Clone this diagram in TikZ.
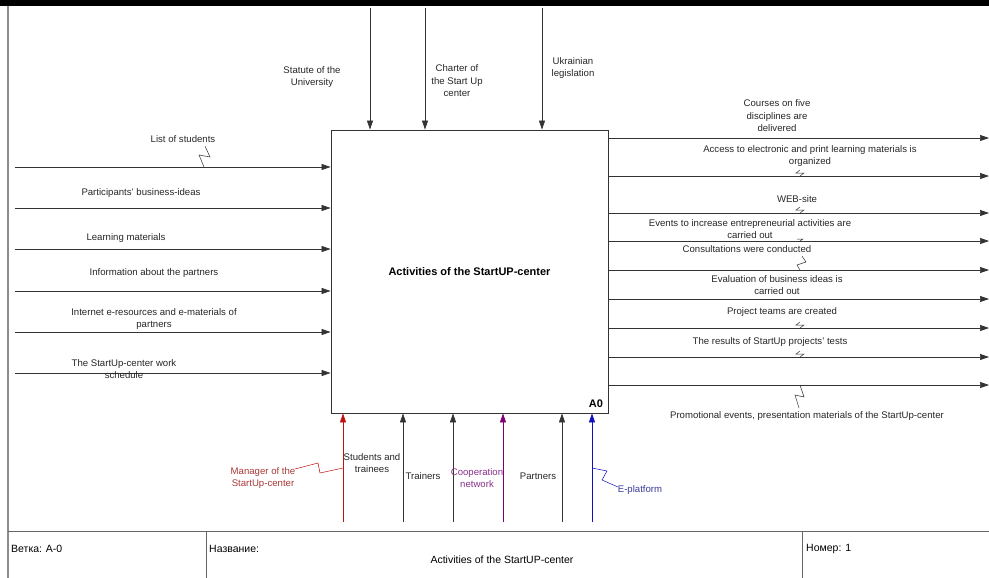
\documentclass[tikz,border=0pt]{standalone}
\usepackage{fontspec}
\setmainfont{Liberation Sans}
\usetikzlibrary{arrows.meta}
\definecolor{mred}{HTML}{C01010}
\definecolor{mredtxt}{HTML}{A83838}
\definecolor{mpurple}{HTML}{800070}
\definecolor{mpurpletxt}{HTML}{883088}
\definecolor{mblue}{HTML}{1010C0}
\definecolor{mbluetxt}{HTML}{3A3A9A}
\begin{document}
\begin{tikzpicture}[x=1pt,y=-1pt,
  arr/.style={draw=black!80, line width=0.7pt, -{Triangle[length=9pt,width=6pt]}},
  lbl/.style={font=\fontsize{9.6}{12.5}\selectfont, align=center, text=black!85, inner sep=0pt},
  sq/.style={draw=black!80, line width=0.5pt},
  foot/.style={font=\fontsize{10.5}{12}\selectfont, inner sep=0pt}]
\useasboundingbox (0,0) rectangle (989,578);
\fill[black] (0,0) rectangle (989,6);
\draw[black!45, line width=1.3pt] (8,6) -- (8,578);

% main box
\node[draw=black!80, line width=0.8pt, minimum width=277pt, minimum height=283pt, inner sep=0pt,
      font=\bfseries\fontsize{11}{13}\selectfont] (box) at (469.5,271.5) {Activities of the StartUP-center};
\node[font=\bfseries\fontsize{11}{13}\selectfont, inner sep=0pt] (a0) at (596,404) {A0};

% controls
\coordinate (c1) at (370,8);
\coordinate (c2) at (425,8);
\coordinate (c3) at (542,8);
\foreach \c in {c1,c2,c3} \draw[arr] (\c) -- (\c |- box.north);
\node[lbl] (lc1) at (312,77) {Statute of the\\University};
\node[lbl] (lc2) at (457,81) {Charter of\\the Start Up\\center};
\node[lbl] (lc3) at (573,68) {Ukrainian\\legislation};

% inputs
\coordinate (i1) at (15,167);
\coordinate (i2) at (15,208);
\coordinate (i3) at (15,249);
\coordinate (i4) at (15,291);
\coordinate (i5) at (15,332);
\coordinate (i6) at (15,373);
\foreach \c in {i1,i2,i3,i4,i5,i6} \draw[arr] (\c) -- (\c -| box.west);
\node[lbl] (li1) at (183,139) {List of students};
\node[lbl] (li2) at (141,193) {Participants' business-ideas};
\node[lbl] (li3) at (126,238) {Learning materials};
\node[lbl] (li4) at (154,273) {Information about the partners};
\node[lbl] (li5) at (154,319) {Internet e-resources and e-materials of\\partners};
\node[lbl] (li6) at (124,369) {The StartUp-center work\\schedule};
\coordinate (s1) at (204,167);
\draw[sq] (s1) -- (199,155) -- (210,157) -- (205,146);

% outputs
\coordinate (o1) at (989,138);
\coordinate (o2) at (989,176);
\coordinate (o3) at (989,213);
\coordinate (o4) at (989,241);
\coordinate (o5) at (989,270);
\coordinate (o6) at (989,299);
\coordinate (o7) at (989,328);
\coordinate (o8) at (989,357);
\coordinate (o9) at (989,385);
\foreach \c in {o1,o2,o3,o4,o5,o6,o7,o8,o9} \draw[arr] (\c -| box.east) -- (\c);
\node[lbl] (lo1) at (777,116) {Courses on five\\disciplines are\\delivered};
\node[lbl] (lo2) at (810,156) {Access to electronic and print learning materials is\\organized};
\node[lbl] (lo3) at (797,199) {WEB-site};
\node[lbl] (lo4) at (750,229) {Events to increase entrepreneurial activities are\\carried out};
\node[lbl] (lo5) at (747,249) {Consultations were conducted};
\node[lbl] (lo6) at (777,285) {Evaluation of business ideas is\\carried out};
\node[lbl] (lo7) at (782,312) {Project teams are created};
\node[lbl] (lo8) at (770,342) {The results of StartUp projects' tests};
\node[lbl] (lo9) at (807,416) {Promotional events, presentation materials of the StartUp-center};
\coordinate (so2) at (800,176);
\coordinate (so3) at (800,213);
\coordinate (so4) at (800,241);
\coordinate (so5) at (800,270);
\coordinate (so7) at (800,328);
\coordinate (so8) at (800,357);
\coordinate (so9) at (800,385);
\foreach \c in {so2,so3,so7,so8} \draw[sq] (\c) -- ++(4,-3) -- ++(-8,0) -- ++(4,-3);
\draw[sq] (so4) -- ++(3,-2) -- ++(-6,0);
\draw[sq] (so5) -- (797,265) -- (806,262) -- (802,256);
\draw[sq] (so9) -- (804,397) -- (795,395) -- (799,408);

% mechanisms
\coordinate (m1) at (343,522);
\coordinate (m2) at (403,522);
\coordinate (m3) at (453,522);
\coordinate (m4) at (503,522);
\coordinate (m5) at (562,522);
\coordinate (m6) at (592,522);
\draw[arr, draw=mred] (m1) -- (m1 |- box.south);
\foreach \c in {m2,m3,m5} \draw[arr] (\c) -- (\c |- box.south);
\draw[arr, draw=mpurple] (m4) -- (m4 |- box.south);
\draw[arr, draw=mblue] (m6) -- (m6 |- box.south);
\node[lbl, text=mredtxt] (lm1) at (263,478) {Manager of the\\StartUp-center};
\node[lbl] (lm2) at (372,463) {Students and\\trainees};
\node[lbl] (lm3) at (423,476) {Trainers};
\node[lbl, text=mpurpletxt] (lm4) at (477,478) {Cooperation\\network};
\node[lbl] (lm5) at (538,476) {Partners};
\node[lbl, text=mbluetxt] (lm6) at (640,490) {E-platform};
\coordinate (sm1) at (343,468);
\coordinate (sm6) at (592,468);
\draw[sq, draw=mred] (sm1) -- (320,473) -- (318,463) -- (295,469);
\draw[sq, draw=mblue] (sm6) -- (607,471) -- (602,480) -- (618,487);

% footer
\coordinate (f0) at (8,531);
\coordinate (f1) at (989,531);
\draw[black!60, line width=0.7pt] (f0) -- (f1);
\coordinate (d1) at (206,531);
\coordinate (d2) at (802,531);
\draw[black!60, line width=0.7pt] (d1) -- (206,578);
\draw[black!60, line width=0.7pt] (d2) -- (802,578);
\node[foot, anchor=west] (fb) at (11,549) {Ветка: A-0};
\node[foot, anchor=west] (fn) at (209,549) {Название:};
\node[foot] (ft) at (502,560) {Activities of the StartUP-center};
\node[foot, anchor=west] (fnum) at (806,549) {Номер: 1};
\end{tikzpicture}
\end{document}
